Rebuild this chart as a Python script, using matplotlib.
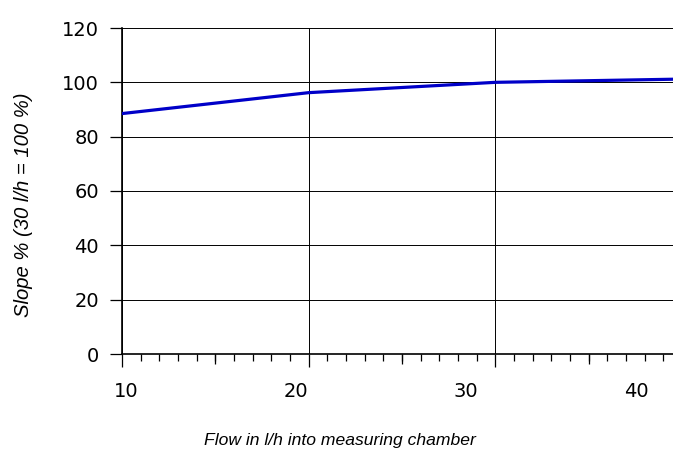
import matplotlib
matplotlib.use("Agg")
import matplotlib.pyplot as plt
from matplotlib.ticker import MultipleLocator, NullFormatter, FixedLocator

# flow (l/h) and relative slope (%)
flow = [10, 20, 30, 40]
slope = [88.5, 96.2, 100.0, 101.2]

x_tick_labels = [10, 20, 30, 40]
y_ticks = [0, 20, 40, 60, 80, 100, 120]

fig = plt.figure(figsize=(6.73, 4.5), dpi=100)
ax = fig.add_axes([122 / 673, 96 / 450, 551 / 673, 326 / 450])

ax.plot(flow, slope, color="#0000c8", lw=2.3, zorder=3, clip_on=True)

ax.set_xlim(10, 10 + 551 / 18.667)
ax.set_ylim(0, 120)

for s in ["top", "right"]:
    ax.spines[s].set_visible(False)
for s in ["left", "bottom"]:
    ax.spines[s].set_linewidth(1.2)

ax.set_yticks(y_ticks)
ax.tick_params(axis="y", direction="out", length=8.5, width=0.9, labelsize=14, pad=8)
ax.xaxis.set_major_locator(FixedLocator([10, 20, 30]))
ax.xaxis.set_major_formatter(NullFormatter())
ax.xaxis.set_minor_locator(MultipleLocator(1))
ax.tick_params(axis="x", which="major", direction="out", length=9.5, width=0.9)
ax.tick_params(axis="x", which="minor", direction="out", length=5, width=0.9)
ax.grid(True, which="major", color="black", lw=0.7)

# longer ticks at the half-way marks
mid = ax.secondary_xaxis("bottom")
mid.spines["bottom"].set_visible(False)
mid.set_xticks([15, 25, 35])
mid.set_xticklabels([])
mid.tick_params(direction="out", length=7.2, width=0.9)

# tick labels sit on their own scale, slightly offset from the tick marks
def to_label(x):
    return 10 + (122 + (x - 10) * 18.667 - 126) / 17

def from_label(v):
    return 10 + (126 + (v - 10) * 17 - 122) / 18.667

lab = ax.secondary_xaxis("bottom", functions=(to_label, from_label))
lab.spines["bottom"].set_visible(False)
lab.set_xticks(x_tick_labels)
lab.tick_params(length=0, labelsize=14, pad=20)

fig.text(340 / 673, 1 - 440 / 450, "Flow in l/h into measuring chamber",
         ha="center", va="center", fontsize=12.6, style="italic", family="Liberation Sans")
fig.text(24 / 673, 1 - 205 / 450, "Slope % (30 l/h = 100 %)", rotation=90,
         ha="center", va="center", fontsize=14.6, style="italic", family="Liberation Sans")

fig.savefig("out.png", dpi=100)
